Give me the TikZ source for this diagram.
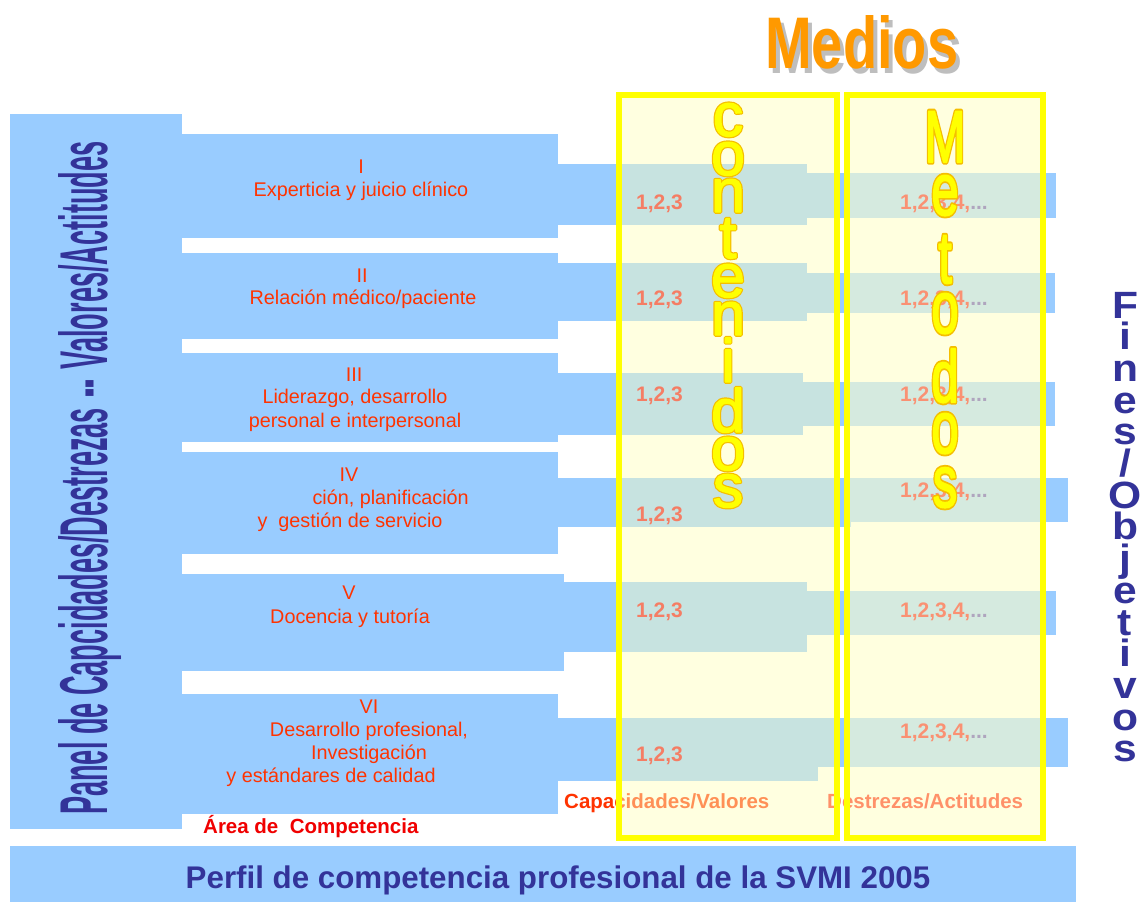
\documentclass[tikz,border=0pt]{standalone}
\usepackage{fontspec}
\setmainfont{Liberation Sans}
\usepackage{graphicx}
\definecolor{pblue}{RGB}{153,204,255}
\definecolor{dblue}{RGB}{51,51,153}
\definecolor{rtext}{RGB}{255,51,0}
\definecolor{ared}{RGB}{240,0,0}
\definecolor{ylw}{RGB}{255,255,0}
\definecolor{lgold}{RGB}{245,190,0}
\definecolor{ovc}{RGB}{255,255,188}
\definecolor{ovm}{RGB}{255,255,202}
\definecolor{morange}{RGB}{255,153,0}
\definecolor{shgrey}{RGB}{190,190,190}
\definecolor{numc}{RGB}{245,125,100}
\definecolor{numm}{RGB}{250,145,115}
\definecolor{dotg}{RGB}{175,165,190}
\definecolor{destc}{RGB}{255,145,105}
% yellow letters with a gold outline (PDF text render mode 2: fill + stroke, round joins)
\newcommand{\olt}[1]{\rlap{\textcolor{lgold}{\special{pdf:literal direct 2 Tr 1 j 3.6 w}#1}}%
  \textcolor{ylw}{\special{pdf:literal direct 2 Tr 1 j 1.2 w}#1\special{pdf:literal direct 0 Tr 0 j 0.4 w}}}
\begin{document}
\begin{tikzpicture}[x=1pt,y=-1pt,
  rt/.style={font=\fontsize{19.8}{23}\selectfont, text=rtext, inner sep=0pt, anchor=base},
  nc/.style={font=\bfseries\fontsize{21}{24}\selectfont, text=numc, inner sep=0pt, anchor=base west},
  nm/.style={font=\bfseries\fontsize{21}{24}\selectfont, text=numm, inner sep=0pt, anchor=base west},
  lab/.style={font=\bfseries\fontsize{20.5}{24}\selectfont, inner sep=0pt, anchor=base west},
  cl/.style={font=\fontsize{61}{70}\selectfont, inner sep=0pt, anchor=base},
  ml/.style={font=\fontsize{49}{60}\selectfont, inner sep=0pt, anchor=base},
  fl/.style={font=\bfseries\fontsize{38}{40}\selectfont, text=dblue, inner sep=0pt, anchor=base},
  framebox/.style={draw=ylw, line width=6pt}]
\useasboundingbox (0,0) rectangle (1141,902);
\fill[white] (0,0) rectangle (1141,902);
% blue panels
\fill[pblue] (10,114) rectangle (182,829);
\fill[pblue] (10,846) rectangle (1076,902);
% row I
\fill[pblue] (182,134) rectangle (558,238);
\fill[pblue] (558,164) rectangle (807,225);
\fill[pblue] (807,173) rectangle (1056,218);
% row II
\fill[pblue] (182,253) rectangle (558,339);
\fill[pblue] (558,263) rectangle (807,321);
\fill[pblue] (807,273) rectangle (1055,313);
% row III
\fill[pblue] (182,353) rectangle (558,442);
\fill[pblue] (558,373) rectangle (803,435);
\fill[pblue] (803,382) rectangle (1055,426);
% row IV
\fill[pblue] (182,452) rectangle (558,554);
\fill[pblue] (558,478) rectangle (851,527);
\fill[pblue] (851,478) rectangle (1068,522);
% row V
\fill[pblue] (182,574) rectangle (564,671);
\fill[pblue] (564,582) rectangle (807,652);
\fill[pblue] (807,591) rectangle (1056,635);
% row VI
\fill[pblue] (182,694) rectangle (558,814);
\fill[pblue] (558,718) rectangle (818,781);
\fill[pblue] (818,718) rectangle (1068,767);
% row texts
\node[rt] (r1a) at (361,173) {I};
\node[rt] (r1b) at (361,196) {Experticia y juicio clínico};
\node[rt] (r2a) at (362,282) {II};
\node[rt] (r2b) at (363,304) {Relación médico/paciente};
\node[rt] (r3a) at (354,381) {III};
\node[rt] (r3b) at (355,403) {Liderazgo, desarrollo};
\node[rt] (r3c) at (355,427) {personal e interpersonal};
\node[rt] (r4a) at (349,481) {IV};
\node[rt, anchor=base east] (r4b) at (469,504) {ción, planificación};
\node[rt] (r4c) at (350,527) {y~ gestión de servicio};
\node[rt] (r5a) at (349,599) {V};
\node[rt] (r5b) at (350,623) {Docencia y tutoría};
\node[rt] (r6a) at (369,713) {VI};
\node[rt] (r6b) at (369,736) {Desarrollo profesional,};
\node[rt] (r6c) at (369,759) {Investigación};
\node[rt] (r6d) at (331,782) {y estándares de calidad};
\node[lab, text=rtext] (capval) at (564,808) {Capacidades/Valores};
% translucent column fills
\fill[ovc, fill opacity=0.46] (619,95) rectangle (837,838);
\fill[ovm, fill opacity=0.59] (847,95) rectangle (1043,838);
% numbers
\foreach \yy/\nn in {209/1,305/2,401/3,521/4,617/5,761/6}
  \node[nc] (nc\nn) at (636,\yy) {1,2,3};
\foreach \yy/\nn in {209/1,305/2,401/3,497/4,617/5,738/6}
  \node[nm] (nm\nn) at (900,\yy) {1,2,3,4,\textcolor{dotg}{...}};
\node[lab, text=destc] (destact) at (827,808) {Destrezas/Actitudes};
% frames
\draw[framebox] (619,95) rectangle (837,838);
\draw[framebox] (847,95) rectangle (1043,838);
% contenidos letters
\foreach \ch/\yy/\nn in {c/136/1,o/175/2,n/212/3,t/258/4,e/297/5,n/335/6,i/382/7,d/432/8,o/470/9,s/507/10}
  \node[cl] (cn\nn) at (728,\yy) {\olt{\ch}};
% Metodos letters
\foreach \ch/\yy/\nn in {M/162/1,e/215/2,t/283/3,o/333/4,d/402/5,o/453/6,s/507/7}
  \node[ml] (mt\nn) at (945,\yy) {\olt{\scalebox{1}[1.5]{\ch}}};
% Medios
\node[inner sep=0pt, anchor=base west, text=shgrey] (medsh) at (769,73) {\resizebox{193pt}{53pt}{\bfseries Medios}};
\node[inner sep=0pt, anchor=base west, text=morange] (medios) at (765,68) {\resizebox{193pt}{53pt}{\bfseries Medios}};
% Panel text
\node[rotate=90, anchor=base west, inner sep=0pt, text=dblue] (panel) at (107,815)
  {\resizebox{673pt}{49pt}{\bfseries Panel de Capcidades/Destrezas\kern0.38em-{}-\kern0.38em Valores/Actitudes}};
% Fines/Objetivos
\foreach \ch/\yy/\k in {F/318/0,i/349.7/1,n/381.4/2,e/413.1/3,s/444.8/4,{/}/476.5/5,O/508.2/6,b/539.9/7,j/571.6/8,e/603.3/9,t/635/10,i/666.7/11,v/698.4/12,o/730.1/13,s/761.8/14}
  \node[fl] (fo\k) at (1125,\yy) {\scalebox{1.12}[1]{\ch}};
% labels
\node[lab, text=ared] (area) at (203,833) {Área de~ Competencia};
\node[font=\bfseries\fontsize{31.3}{34}\selectfont, text=dblue, inner sep=0pt, anchor=base] (perfil) at (558,888) {Perfil de competencia profesional de la SVMI 2005};
\end{tikzpicture}
\end{document}
